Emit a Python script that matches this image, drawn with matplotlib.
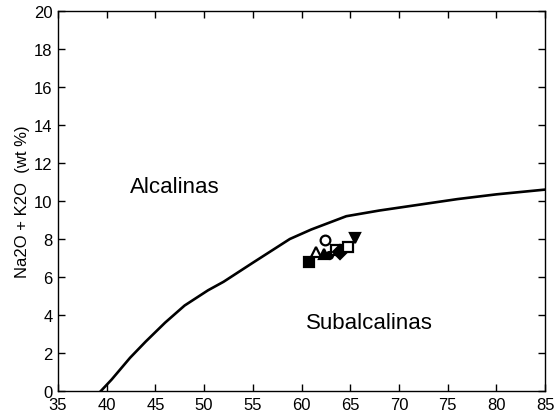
import matplotlib
matplotlib.use("Agg")
import matplotlib.pyplot as plt

# Dividing curve (Irvine & Baragar style)
curve_sio2 = [39.4, 40.5, 42.4, 44.0, 46.0, 48.0, 50.4, 52.0, 55.0, 58.8, 61.0, 64.6, 68.0, 72.0, 76.0, 80.0, 85.0]
curve_alk = [0.0, 0.6, 1.75, 2.6, 3.6, 4.5, 5.3, 5.75, 6.75, 8.0, 8.5, 9.2, 9.5, 9.8, 10.1, 10.35, 10.6]

# Samples
sample_sio2 = [60.8, 61.5, 62.4, 62.3, 62.8, 63.5, 64.0, 64.8, 65.5]
sample_alk = [6.8, 7.3, 7.95, 7.2, 7.15, 7.4, 7.3, 7.6, 8.05]
sample_marker = ['s', '^', 'o', '^', 'o', 's', 'D', 's', 'v']
sample_filled = [True, False, False, True, True, False, True, False, True]

x_ticks = [35, 40, 45, 50, 55, 60, 65, 70, 75, 80, 85]
y_ticks = [0, 2, 4, 6, 8, 10, 12, 14, 16, 18, 20]

plt.rcParams['font.family'] = ['Liberation Sans', 'DejaVu Sans']

fig = plt.figure(figsize=(5.55, 4.14), dpi=100)
ax = fig.add_axes([0.1045, 0.0531, 0.8775, 0.9179])

ax.plot(curve_sio2, curve_alk, color='black', lw=1.9)

for x, y, m, f in zip(sample_sio2, sample_alk, sample_marker, sample_filled):
    ms = 5 if m in ('o',) and f else 7
    ax.plot([x], [y], marker=m, ms=ms, mec='black', mew=1.6,
            mfc='black' if f else 'white', ls='none')

ax.text(42.4, 10.47, 'Alcalinas', fontsize=16, ha='left', va='baseline')
ax.text(60.5, 3.3, 'Subalcalinas', fontsize=16, ha='left', va='baseline')

ax.set_xlim(35, 85)
ax.set_ylim(0, 20)
ax.set_xticks(x_ticks)
ax.set_yticks(y_ticks)
ax.tick_params(direction='in', top=True, right=True, length=5, width=1,
               labelsize=12)
ax.tick_params(axis='x', pad=4)
ax.tick_params(axis='y', pad=4)
ax.set_ylabel('Na2O + K2O  (wt %)', fontsize=12, labelpad=3)
for s in ax.spines.values():
    s.set_linewidth(1.0)

fig.savefig('out.png', dpi=100)
